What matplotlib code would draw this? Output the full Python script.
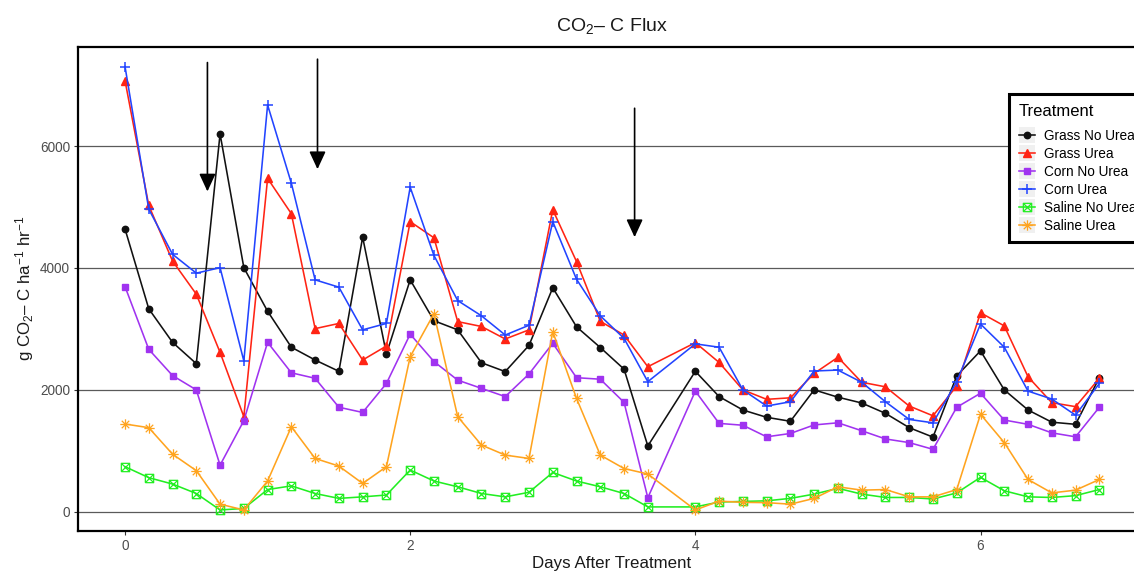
import numpy as np
import matplotlib
matplotlib.use("Agg")
import matplotlib.pyplot as plt
from matplotlib.path import Path
from matplotlib.patches import Rectangle
from matplotlib.legend_handler import HandlerLine2D

plt.rcParams['font.family'] = ['Liberation Sans', 'DejaVu Sans']
plt.rcParams['mathtext.fontset'] = 'custom'
plt.rcParams['mathtext.rm'] = 'Liberation Sans'
plt.rcParams['mathtext.it'] = 'Liberation Sans:italic'
plt.rcParams['mathtext.bf'] = 'Liberation Sans:bold'

# sampling times (hours after treatment), the 92 h sample is missing
hours = [0, 4, 8, 12, 16, 20, 24, 28, 32, 36, 40, 44, 48, 52, 56, 60, 64, 68,
         72, 76, 80, 84, 88, 96, 100, 104, 108, 112, 116, 120, 124, 128, 132,
         136, 140, 144, 148, 152, 156, 160, 164]

grass_no_urea = [4640, 3330, 2780, 2430, 6200, 4005, 3290, 2700, 2490, 2305, 4505,
                 2590, 3805, 3135, 2985, 2445, 2300, 2730, 3675, 3035, 2695, 2340,
                 1080, 2305, 1890, 1670, 1550, 1485, 2000, 1880, 1785, 1615, 1380,
                 1225, 2230, 2640, 2000, 1670, 1470, 1435, 2200]
grass_urea = [7075, 5025, 4115, 3570, 2615, 1560, 5470, 4890, 3005, 3090, 2490,
              2720, 4760, 4495, 3120, 3040, 2835, 2985, 4955, 4105, 3125, 2900,
              2380, 2775, 2450, 2000, 1845, 1870, 2270, 2535, 2125, 2050, 1735,
              1575, 2065, 3265, 3050, 2215, 1790, 1725, 2190]
corn_no_urea = [3695, 2665, 2235, 2000, 765, 1495, 2780, 2280, 2190, 1715, 1630,
                2105, 2915, 2465, 2160, 2025, 1890, 2260, 2765, 2200, 2175, 1795,
                230, 1980, 1450, 1420, 1230, 1285, 1425, 1460, 1330, 1195, 1135,
                1025, 1715, 1945, 1505, 1435, 1295, 1230, 1715]
corn_urea = [7305, 4965, 4225, 3915, 4005, 2475, 6675, 5390, 3805, 3685, 2985,
             3090, 5325, 4205, 3465, 3215, 2900, 3060, 4760, 3815, 3215, 2845,
             2135, 2755, 2700, 2000, 1735, 1805, 2310, 2325, 2125, 1805, 1515,
             1460, 2135, 3080, 2700, 1980, 1850, 1585, 2105]
saline_no_urea = [740, 560, 455, 300, 30, 55, 365, 425, 300, 220, 245,
                  275, 685, 505, 410, 300, 245, 320, 645, 505, 410, 300,
                  80, 80, 160, 170, 180, 220, 290, 385, 290, 235, 235,
                  210, 310, 565, 345, 245, 235, 265, 365]
saline_urea = [1440, 1380, 945, 675, 125, 30, 505, 1395, 875, 750, 465,
               740, 2545, 3250, 1560, 1095, 930, 875, 2955, 1860, 930, 710,
               620, 30, 175, 155, 150, 125, 220, 410, 355, 365, 245,
               245, 365, 1600, 1135, 530, 310, 355, 530]

treatments = ["Grass No Urea", "Grass Urea", "Corn No Urea", "Corn Urea",
              "Saline No Urea", "Saline Urea"]

# urea application arrows (days, top and tip of arrow in flux units)
arrow_day = [0.578, 1.35, 3.574]
arrow_top = [7370, 7425, 6620]
arrow_tip = [5255, 5620, 4505]

days = np.array(hours) / 24.0

# R pch 7 (square with cross) and pch 8 (asterisk)
sq_cross = Path([(-1, -1), (1, -1), (1, 1), (-1, 1), (-1, -1),
                 (-1, -1), (1, 1), (-1, 1), (1, -1)],
                [Path.MOVETO, Path.LINETO, Path.LINETO, Path.LINETO, Path.LINETO,
                 Path.MOVETO, Path.LINETO, Path.MOVETO, Path.LINETO])
asterisk = Path([(-1, 0), (1, 0), (0, -1), (0, 1),
                 (-0.72, -0.72), (0.72, 0.72), (-0.72, 0.72), (0.72, -0.72)],
                [Path.MOVETO, Path.LINETO] * 4)

series = [grass_no_urea, grass_urea, corn_no_urea, corn_urea,
          saline_no_urea, saline_urea]
colors = ['#111111', '#ff2414', '#a033f0', '#2244ff', '#22ee22', '#ffa41f']
styles = [dict(marker='o', ms=4.6),
          dict(marker='^', ms=5.2),
          dict(marker='s', ms=4.4),
          dict(marker='+', ms=7.5, mew=1.1),
          dict(marker=sq_cross, ms=6.0, mew=0.9, mfc='none'),
          dict(marker=asterisk, ms=7.5, mew=0.9, mfc='none')]


class KeyWithBackground(HandlerLine2D):
    # ggplot style legend key: light grey square behind the line+marker
    def create_artists(self, legend, orig_handle, xdescent, ydescent,
                       width, height, fontsize, trans):
        arts = super().create_artists(legend, orig_handle, xdescent, ydescent,
                                      width, height, fontsize, trans)
        side = width * 0.98
        yc = -ydescent + height / 2
        bg = Rectangle((-xdescent, yc - side / 2), width, side,
                       facecolor='#f0f0f0', edgecolor='none', transform=trans)
        return [bg] + arts


fig = plt.figure(figsize=(11.34, 5.71), dpi=100)
ax = fig.add_axes([0.0690, 0.0706, 0.9415, 0.8476])

for vals, lab, col, st in zip(series, treatments, colors, styles):
    ax.plot(days, vals, color=col, lw=1.15, label=lab, **st)

for xd, yt, yb in zip(arrow_day, arrow_top, arrow_tip):
    ax.annotate('', xy=(xd, yb), xytext=(xd, yt),
                arrowprops=dict(arrowstyle='-|>,head_length=0.54,head_width=0.25',
                                mutation_scale=20, color='black', lw=1.2,
                                shrinkA=0, shrinkB=0))

ax.set_xlim(-0.328, 7.16)
ax.set_ylim(-310, 7630)
ax.set_xticks([0, 2, 4, 6])
ax.set_yticks([0, 2000, 4000, 6000])
ax.yaxis.grid(True, color='#5a5a5a', lw=0.9)
ax.set_axisbelow(True)
ax.tick_params(labelsize=9.8, labelcolor='#4d4d4d', color='#333333',
               length=3, width=0.8, pad=3)
for side in ['top', 'left', 'bottom', 'right']:
    ax.spines[side].set_linewidth(1.6)
    ax.spines[side].set_color('black')

fig.text(612 / 1134, 1 - 31 / 571, r'CO$_2$– C Flux', ha='center',
         va='baseline', fontsize=14, color='#1a1a1a')
fig.text(612 / 1134, 1 - 568 / 571, 'Days After Treatment', ha='center',
         va='baseline', fontsize=12.2, color='#1a1a1a')
fig.text(25 / 1134, 1 - 288 / 571, r'g CO$_2$– C ha$^{-1}$ hr$^{-1}$',
         ha='center', va='center', rotation=90, fontsize=12.2, color='#1a1a1a')

handles, labels = ax.get_legend_handles_labels()
leg = ax.legend(handles, labels, loc='upper left',
                bbox_to_anchor=(1009.3 / 1134, 1 - 94.3 / 571),
                bbox_transform=fig.transFigure, title='Treatment',
                alignment='left', fontsize=9.8, title_fontsize=12,
                frameon=True, fancybox=False, framealpha=1,
                handlelength=1.2, handletextpad=0.65, labelspacing=0.3,
                borderpad=0.7, borderaxespad=0,
                handler_map={h: KeyWithBackground() for h in handles})
leg.get_frame().set_edgecolor('black')
leg.get_frame().set_linewidth(2.2)
leg._legend_box.sep = 7

fig.savefig('out.png', dpi=100)
